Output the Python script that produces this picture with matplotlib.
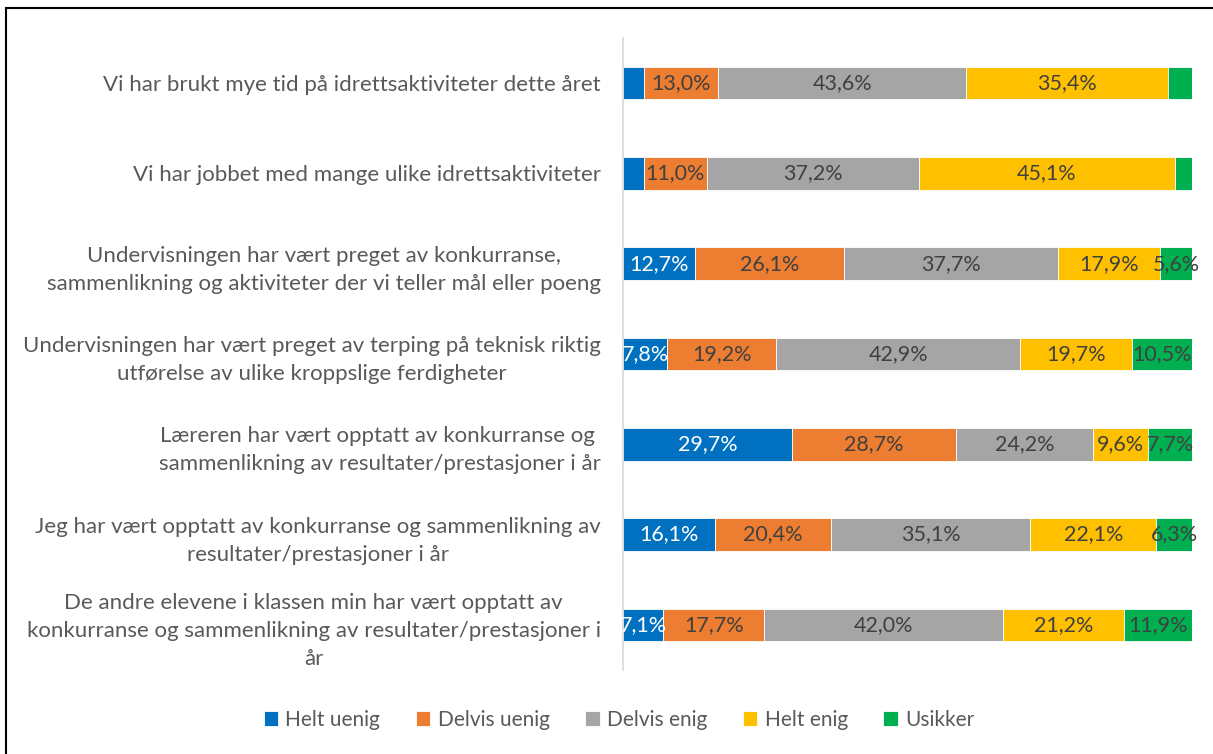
import matplotlib
matplotlib.use("Agg")
import matplotlib.pyplot as plt
from matplotlib.patches import Rectangle
import numpy as np

plt.rcParams['font.family'] = ['Lato', 'DejaVu Sans']

categories = [
    "Vi har brukt mye tid på idrettsaktiviteter dette året",
    "Vi har jobbet med mange ulike idrettsaktiviteter",
    "Undervisningen har vært preget av konkurranse,\nsammenlikning og aktiviteter der vi teller mål eller poeng",
    "Undervisningen har vært preget av terping på teknisk riktig\nutførelse av ulike kroppslige ferdigheter",
    "Læreren har vært opptatt av konkurranse og \nsammenlikning av resultater/prestasjoner i år",
    "Jeg har vært opptatt av konkurranse og sammenlikning av\nresultater/prestasjoner i år",
    "De andre elevene i klassen min har vært opptatt av\nkonkurranse og sammenlikning av resultater/prestasjoner i\når",
]
series_names = ["Helt uenig", "Delvis uenig", "Delvis enig", "Helt enig", "Usikker"]
helt_uenig = [3.7, 3.7, 12.7, 7.8, 29.7, 16.1, 7.1]
delvis_uenig = [13.0, 11.0, 26.1, 19.2, 28.7, 20.4, 17.7]
delvis_enig = [43.6, 37.2, 37.7, 42.9, 24.2, 35.1, 42.0]
helt_enig = [35.4, 45.1, 17.9, 19.7, 9.6, 22.1, 21.2]
usikker = [4.3, 2.9, 5.6, 10.5, 7.7, 6.3, 11.9]
# which labels are shown per series (first two rows hide the small end segments)
show_label = [
    [False, False, True, True, True, True, True],
    [True] * 7,
    [True] * 7,
    [True] * 7,
    [False, False, True, True, True, True, True],
]
colors = ["#0070C0", "#ED7D31", "#A5A5A5", "#FFC000", "#00B050"]
label_colors = ["white", "#404040", "#404040", "#404040", "#404040"]

data = np.array([helt_uenig, delvis_uenig, delvis_enig, helt_enig, usikker])
totals = data.sum(axis=0)
shares = data / totals * 100

FS = 15.5
FS_CAT = 16

fig = plt.figure(figsize=(12.13, 7.54), dpi=100)
ax = fig.add_axes([623/1213, 1-670/754, (1192-623)/1213, (670-38)/754])

y = np.arange(len(categories))
left = np.zeros(len(categories))
for i, name in enumerate(series_names):
    bars = ax.barh(y, shares[i], left=left, height=0.36, color=colors[i],
                   edgecolor='white', linewidth=0.6, label=name)
    for j, b in enumerate(bars):
        if show_label[i][j]:
            ax.text(left[j] + shares[i][j] / 2, y[j],
                    f"{data[i][j]:.1f}".replace('.', ',') + "%",
                    ha='center', va='center', fontsize=FS,
                    color=label_colors[i])
    left += shares[i]

ax.set_xlim(0, 100)
ax.set_ylim(len(categories) - 0.5, -0.5)
ax.set_yticks(y)
ax.set_yticklabels(categories, fontsize=FS_CAT, color='#595959',
                   multialignment='center', linespacing=1.5)
ax.tick_params(axis='y', length=0, pad=16)
ax.set_xticks([])
for s in ['top', 'right', 'bottom']:
    ax.spines[s].set_visible(False)
ax.spines['left'].set_color('#D9D9D9')
ax.spines['left'].set_linewidth(1.2)

leg = fig.legend(loc='center', bbox_to_anchor=(619/1213, 1-720/754), ncol=5,
                 frameon=False, fontsize=15, handlelength=0.7, handleheight=0.7,
                 handletextpad=0.35, columnspacing=1.7)
for t in leg.get_texts():
    t.set_color('#595959')

fig.patches.append(Rectangle((6/1213, -0.05), 1.2, 1.05 - 8/754, transform=fig.transFigure,
                             fill=False, edgecolor='black', linewidth=1.5, clip_on=False))

fig.savefig("out.png", dpi=100)
